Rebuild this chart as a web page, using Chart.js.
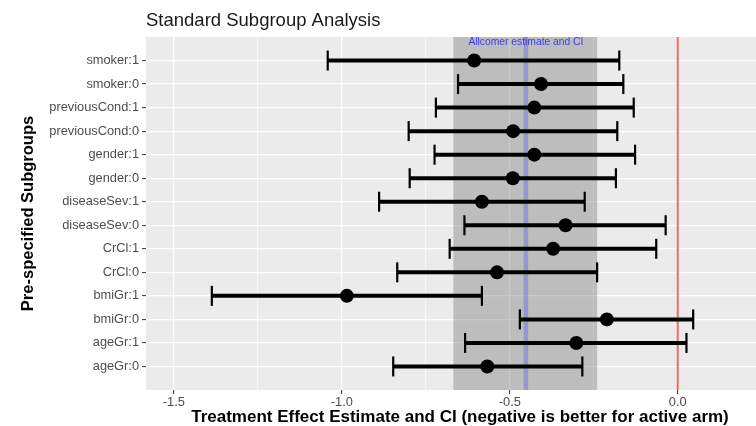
<!DOCTYPE html>
<html>
<head>
<meta charset="utf-8">
<script src="https://cdn.jsdelivr.net/npm/chart.js@4"></script>
<style>
  body { margin: 0; background: #fff; }
  #wrap { width: 756px; height: 426px; }
</style>
</head>
<body>
<div id="wrap"><canvas id="subgroup-chart"></canvas></div>
<script>
// subgroups listed bottom -> top (y position 1..14)
const subgroups = ['ageGr:0', 'ageGr:1', 'bmiGr:0', 'bmiGr:1', 'CrCl:0', 'CrCl:1',
  'diseaseSev:0', 'diseaseSev:1', 'gender:0', 'gender:1',
  'previousCond:0', 'previousCond:1', 'smoker:0', 'smoker:1'];
const estimate = [-0.567, -0.302, -0.211, -0.985, -0.538, -0.371, -0.334, -0.583, -0.491, -0.427, -0.490, -0.427, -0.407, -0.606];
const ciLower  = [-0.847, -0.633, -0.470, -1.387, -0.835, -0.679, -0.635, -0.889, -0.798, -0.724, -0.801, -0.720, -0.654, -1.042];
const ciUpper  = [-0.284,  0.026,  0.046, -0.583, -0.240, -0.064, -0.036, -0.277, -0.184, -0.127, -0.180, -0.131, -0.162, -0.174];

// allcomer estimate and CI
const allEst = -0.452;
const allLower = -0.668;
const allUpper = -0.240;

const xMajorTicks = [-1.5, -1.0, -0.5, 0.0];
const xMinorTicks = [-1.25, -0.75, -0.25];

const FONT = '"Liberation Sans", Arial, Helvetica, sans-serif';

function yPos(i) { return i + 1; }

// panel background, band, labels
const panelPlugin = {
  id: 'panel',
  beforeDraw(chart) {
    const ctx = chart.ctx;
    const a = chart.chartArea;
    ctx.save();
    ctx.fillStyle = '#ffffff';
    ctx.fillRect(0, 0, chart.width, chart.height);
    ctx.fillStyle = '#ebebeb';
    ctx.fillRect(a.left, a.top, a.right - a.left, a.bottom - a.top);
    ctx.restore();
  },
  beforeDatasetsDraw(chart) {
    const ctx = chart.ctx;
    const a = chart.chartArea;
    const x = chart.scales.x;
    const x1 = x.getPixelForValue(allLower);
    const x2 = x.getPixelForValue(allUpper);
    ctx.save();
    ctx.fillStyle = 'rgba(120,120,120,0.4)';
    ctx.fillRect(x1, a.top, x2 - x1, a.bottom - a.top);
    ctx.restore();
  },
  afterDraw(chart) {
    const ctx = chart.ctx;
    const a = chart.chartArea;
    const x = chart.scales.x;
    const y = chart.scales.y;
    ctx.save();
    // annotation
    ctx.fillStyle = '#3a3aff';
    ctx.font = '10.3px ' + FONT;
    ctx.textAlign = 'center';
    ctx.textBaseline = 'middle';
    ctx.fillText('Allcomer estimate and CI', x.getPixelForValue(allEst), y.getPixelForValue(14.8));
    // title
    ctx.fillStyle = '#1a1a1a';
    ctx.font = '18.5px ' + FONT;
    ctx.textAlign = 'left';
    ctx.textBaseline = 'alphabetic';
    ctx.fillText('Standard Subgroup Analysis', a.left, 26);
    // x axis title
    ctx.fillStyle = '#000';
    ctx.font = 'bold 17px ' + FONT;
    ctx.textAlign = 'center';
    ctx.textBaseline = 'middle';
    ctx.fillText('Treatment Effect Estimate and CI (negative is better for active arm)', 460, 417);
    ctx.restore();
  }
};

const datasets = [];

// point estimates on top
datasets.push({
  label: 'estimate',
  data: estimate.map((v, i) => ({ x: v, y: yPos(i) })),
  pointRadius: 7,
  pointBackgroundColor: '#000',
  pointBorderColor: '#000',
  pointBorderWidth: 0,
  order: 0
});

// error bar caps
datasets.push({
  label: 'caps',
  data: ciLower.map((v, i) => ({ x: v, y: yPos(i) }))
    .concat(ciUpper.map((v, i) => ({ x: v, y: yPos(i) }))),
  pointStyle: 'line',
  rotation: 90,
  pointRadius: 10,
  pointBorderColor: '#000',
  pointBorderWidth: 2.2,
  order: 1
});

// error bar segments
subgroups.forEach((name, i) => {
  datasets.push({
    label: name,
    data: [{ x: ciLower[i], y: yPos(i) }, { x: ciUpper[i], y: yPos(i) }],
    showLine: true,
    borderColor: '#000',
    borderWidth: 4,
    pointRadius: 0,
    order: 2
  });
});

// reference lines
datasets.push({
  label: 'allcomer',
  data: [{ x: allEst, y: 0 }, { x: allEst, y: 15 }],
  showLine: true,
  borderColor: 'rgba(40,40,255,0.25)',
  borderWidth: 4.5,
  pointRadius: 0,
  order: 3
});
datasets.push({
  label: 'zero',
  data: [{ x: 0, y: 0 }, { x: 0, y: 15 }],
  showLine: true,
  borderColor: '#f46a6a',
  borderWidth: 2,
  pointRadius: 0,
  order: 3
});

new Chart(document.querySelector('#subgroup-chart'), {
  type: 'scatter',
  data: { datasets: datasets },
  plugins: [panelPlugin],
  options: {
    responsive: true,
    maintainAspectRatio: false,
    animation: false,
    layout: { autoPadding: false, padding: { top: 37, right: 0, bottom: 0, left: 0 } },
    plugins: {
      legend: { display: false },
      tooltip: { enabled: false },
      title: { display: false }
    },
    scales: {
      x: {
        type: 'linear',
        min: -1.583,
        max: 0.233,
        afterBuildTicks: scale => {
          scale.ticks = xMajorTicks.concat(xMinorTicks).sort((a, b) => a - b).map(v => ({ value: v }));
        },
        afterFit: scale => { scale.height = 36; },
        ticks: {
          color: '#4d4d4d',
          font: { family: FONT, size: 12.8 },
          padding: 1,
          maxRotation: 0,
          autoSkip: false,
          callback: v => xMajorTicks.includes(v) ? v.toFixed(1) : ''
        },
        grid: {
          color: '#ffffff',
          lineWidth: ctx => xMajorTicks.includes(ctx.tick.value) ? 1.2 : 0.6,
          tickColor: ctx => xMajorTicks.includes(ctx.tick.value) ? '#333333' : 'rgba(0,0,0,0)',
          tickLength: 4,
          tickWidth: 1
        },
        border: { display: false }
      },
      y: {
        type: 'linear',
        min: 0,
        max: 15,
        afterBuildTicks: scale => {
          scale.ticks = subgroups.map((s, i) => ({ value: yPos(i) }));
        },
        afterFit: scale => { scale.width = 146; },
        ticks: {
          color: '#4d4d4d',
          font: { family: FONT, size: 12.8 },
          padding: 3,
          autoSkip: false,
          callback: v => subgroups[v - 1]
        },
        grid: {
          color: '#ffffff',
          lineWidth: 1.2,
          tickColor: '#333333',
          tickLength: 4,
          tickWidth: 1
        },
        border: { display: false },
        title: {
          display: true,
          text: 'Pre-specified Subgroups',
          color: '#000',
          font: { family: FONT, size: 16.5, weight: 'bold' },
          padding: { top: 19, bottom: 0 }
        }
      }
    }
  }
});
</script>
</body>
</html>
